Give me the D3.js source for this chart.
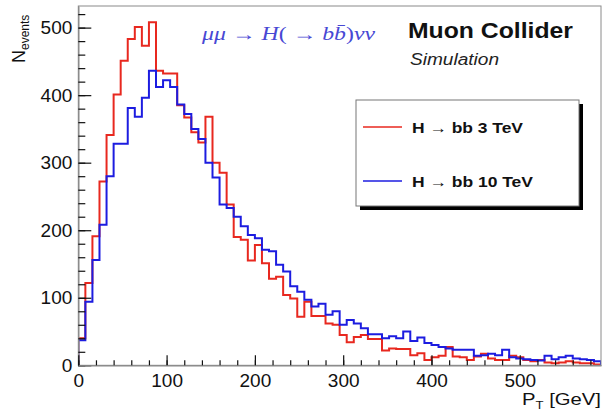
<!DOCTYPE html>
<html>
<head>
<meta charset="utf-8">
<script src="https://cdn.jsdelivr.net/npm/d3@7"></script>
<style>
  body { margin: 0; background: #fff; }
  text { font-family: "Liberation Sans", Arial, sans-serif; }
</style>
</head>
<body>
<div id="chart"></div>
<script>
// histogram contents, 8 GeV bins starting at 0
const binWidth = 8;
const red3TeV = [40, 122, 191, 272, 341, 401, 451, 483, 501, 473, 508, 436, 432, 432, 385, 367,
  345, 330, 368, 300, 285, 238, 190, 186, 155, 178, 151, 128, 131, 104, 99, 72,
  94, 73, 73, 62, 60, 45, 34, 42, 45, 39, 39, 22, 25, 24, 24, 15,
  18, 8, 12, 14, 27, 13, 12, 8, 13, 17, 10, 8, 8, 14, 12, 8,
  6, 8, 4, 3, 4, 6, 4, 3, 3, 1];
const blue10TeV = [37, 94, 156, 208, 280, 328, 328, 381, 368, 396, 436, 412, 422, 412, 386, 372,
  350, 335, 300, 278, 238, 233, 220, 206, 193, 188, 171, 169, 149, 139, 117, 109,
  97, 87, 91, 75, 80, 60, 67, 62, 55, 46, 46, 40, 43, 40, 50, 36,
  41, 33, 30, 27, 25, 23, 23, 23, 14, 15, 17, 15, 23, 12, 10, 9,
  8, 7, 14, 9, 12, 14, 10, 9, 8, 6];
const xMajor = [0, 100, 200, 300, 400, 500];
const yMajor = [0, 100, 200, 300, 400, 500];
const xMinor = d3.range(0, 600, 20);
const yMinor = d3.range(0, 540, 20);
const legendItems = [
  { label: "H \u2192 bb 3 TeV", color: "#e8281f", len: 111 },
  { label: "H \u2192 bb 10 TeV", color: "#1c1ce0", len: 121 }
];

const W = 603, H = 413;
const frame = { left: 78.3, top: 6, right: 601, bottom: 365.3 };

const svg = d3.select("#chart").append("svg")
  .attr("width", W).attr("height", H);

const x = d3.scaleLinear().domain([0, 592]).range([frame.left, frame.right]);
const y = d3.scaleLinear().domain([0, 532]).range([frame.bottom, frame.top]);

svg.append("clipPath").attr("id", "clip")
  .append("rect")
  .attr("x", frame.left).attr("y", frame.top)
  .attr("width", frame.right - frame.left).attr("height", frame.bottom - frame.top);

// step outline like a ROOT histogram
function stepPath(vals) {
  const p = d3.path();
  p.moveTo(x(0), y(0));
  vals.forEach((v, i) => {
    p.lineTo(x(i * binWidth), y(v));
    p.lineTo(x((i + 1) * binWidth), y(v));
  });
  p.lineTo(x(vals.length * binWidth), y(0));
  return p.toString();
}

const plot = svg.append("g").attr("clip-path", "url(#clip)");
plot.append("path").attr("d", stepPath(red3TeV))
  .attr("fill", "none").attr("stroke", legendItems[0].color).attr("stroke-width", 2);
plot.append("path").attr("d", stepPath(blue10TeV))
  .attr("fill", "none").attr("stroke", legendItems[1].color).attr("stroke-width", 2);

// frame
svg.append("rect")
  .attr("x", frame.left).attr("y", frame.top)
  .attr("width", frame.right - frame.left).attr("height", frame.bottom - frame.top)
  .attr("fill", "none").attr("stroke", "#8a8a8a").attr("stroke-width", 1);

// axes, ticks pointing inward
svg.append("g").attr("transform", `translate(${frame.left},0)`)
  .call(d3.axisLeft(y).tickValues(yMajor).tickSizeInner(-13).tickSizeOuter(0).tickPadding(6));
svg.append("g").attr("transform", `translate(${frame.left},0)`)
  .call(d3.axisLeft(y).tickValues(yMinor).tickSizeInner(-7).tickSizeOuter(0).tickFormat(""));
svg.append("g").attr("transform", `translate(0,${frame.bottom})`)
  .call(d3.axisBottom(x).tickValues(xMajor).tickSizeInner(-10).tickSizeOuter(0).tickPadding(8));
svg.append("g").attr("transform", `translate(0,${frame.bottom})`)
  .call(d3.axisBottom(x).tickValues(xMinor).tickSizeInner(-5).tickSizeOuter(0).tickFormat(""));

svg.selectAll(".domain").attr("stroke", "#8a8a8a");
svg.selectAll(".tick line").attr("stroke", "#111").attr("stroke-width", 1.2);
svg.selectAll(".tick text").attr("font-size", 19).attr("fill", "#111")
  .style("font-family", "Liberation Sans, Arial, sans-serif");

// axis titles
const yt = svg.append("text")
  .attr("transform", "translate(25,63) rotate(-90)")
  .attr("font-size", 18).attr("fill", "#111");
yt.append("tspan").text("N");
yt.append("tspan").attr("font-size", 12).attr("dy", 4).text("events");

const xt = svg.append("text")
  .attr("x", 522).attr("y", 405)
  .attr("font-size", 17).attr("fill", "#111")
  .attr("textLength", 79).attr("lengthAdjust", "spacingAndGlyphs");
xt.append("tspan").text("P");
xt.append("tspan").attr("font-size", 11).attr("dy", 4).text("T");
xt.append("tspan").attr("dy", -4).text(" [GeV]");

// process label
const proc = svg.append("text")
  .attr("x", 202).attr("y", 40)
  .attr("font-size", 18).attr("fill", "#4848d4")
  .attr("textLength", 173).attr("lengthAdjust", "spacingAndGlyphs")
  .style("font-family", "Liberation Serif, Times New Roman, serif");
proc.append("tspan").attr("font-style", "italic").text("\u03bc\u03bc");
proc.append("tspan").text(" \u2192 ");
proc.append("tspan").attr("font-style", "italic").text("H");
proc.append("tspan").text("( \u2192 ");
proc.append("tspan").attr("font-style", "italic").text("bb\u0304");
proc.append("tspan").text(")");
proc.append("tspan").attr("font-style", "italic").text("\u03bd\u03bd");

svg.append("text").attr("x", 408).attr("y", 38)
  .attr("font-size", 22).attr("font-weight", "bold").attr("fill", "#111")
  .attr("textLength", 165).attr("lengthAdjust", "spacingAndGlyphs")
  .text("Muon Collider");
svg.append("text").attr("x", 410).attr("y", 65)
  .attr("font-size", 16).attr("font-style", "italic").attr("fill", "#222")
  .attr("textLength", 89).attr("lengthAdjust", "spacingAndGlyphs")
  .text("Simulation");

// legend with ROOT-style shadow
const lg = { x: 356, y: 100, w: 223, h: 106 };
svg.append("rect").attr("x", lg.x + 4).attr("y", lg.y + 4).attr("width", lg.w).attr("height", lg.h)
  .attr("fill", "#000");
svg.append("rect").attr("x", lg.x).attr("y", lg.y).attr("width", lg.w).attr("height", lg.h)
  .attr("fill", "#fff").attr("stroke", "#777").attr("stroke-width", 1);

legendItems.forEach((d, i) => {
  const cy = 127 + i * 54;
  svg.append("line").attr("x1", 363).attr("x2", 402).attr("y1", cy).attr("y2", cy)
    .attr("stroke", d.color).attr("stroke-width", 1.5);
  svg.append("text").attr("x", 412).attr("y", cy + 6)
    .attr("font-size", 15).attr("font-weight", "bold").attr("fill", "#111")
    .attr("textLength", d.len).attr("lengthAdjust", "spacingAndGlyphs")
    .text(d.label);
});
</script>
</body>
</html>
